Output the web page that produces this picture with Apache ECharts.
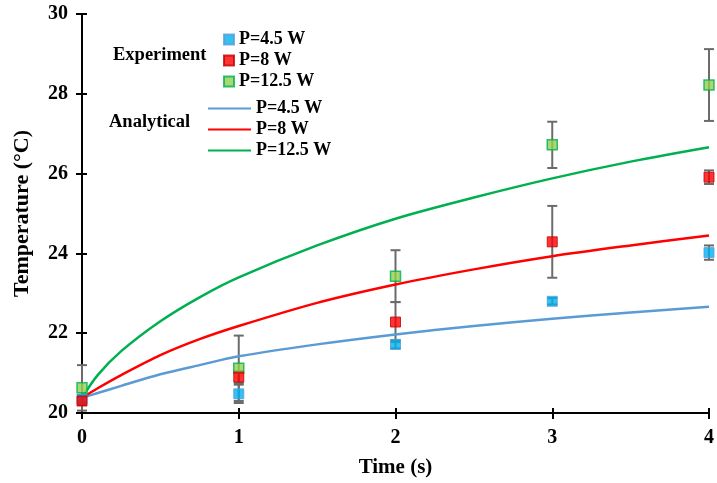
<!DOCTYPE html>
<html>
<head>
<meta charset="utf-8">
<script src="https://cdn.jsdelivr.net/npm/echarts@6/dist/echarts.min.js"></script>
<style>html,body{margin:0;padding:0;background:#fff;}#c{width:717px;height:483px;}</style>
</head>
<body>
<div id="c"></div>
<script>
// Experimental data
const times = [0, 1, 2, 3, 4];
const exp45 = [20.35, 20.48, 21.72, 22.80, 24.02];
const exp8 = [20.30, 20.90, 22.28, 24.29, 25.91];
const exp125 = [20.63, 21.12, 23.43, 26.72, 28.22];
const err45 = [0.10, 0.23, 0.10, 0.08, 0.18];
const err8 = [0.10, 0.15, 0.50, 0.90, 0.17];
const err125 = [0.57, 0.82, 0.65, 0.58, 0.90];
// Analytical curves
const tAna = [0, 0.1, 0.25, 0.5, 0.75, 1, 1.5, 2, 2.5, 3, 3.5, 4];
const ana45 = [20.38, 20.50, 20.68, 20.97, 21.20, 21.42, 21.72, 21.97, 22.18, 22.36, 22.52, 22.66];
const ana8 = [20.38, 20.62, 20.95, 21.45, 21.85, 22.18, 22.76, 23.22, 23.60, 23.93, 24.20, 24.45];
const ana125 = [20.38, 20.95, 21.55, 22.30, 22.90, 23.40, 24.20, 24.87, 25.40, 25.88, 26.30, 26.66];
const labels = ['P=4.5 W', 'P=8 W', 'P=12.5 W'];
const xTicks = [0, 1, 2, 3, 4];
const yTicks = [20, 22, 24, 26, 28, 30];

const FONT = '"Liberation Serif", "Times New Roman", serif';
const pair = (xs, ys) => xs.map((x, i) => [x, ys[i]]);
const errData = (ys, es) => times.map((t, i) => [t, ys[i] - es[i], ys[i] + es[i]]);

function errRender(params, api) {
  const x = api.value(0);
  const lo = api.coord([x, api.value(1)]);
  const hi = api.coord([x, api.value(2)]);
  const hw = 5;
  const style = { stroke: '#6b6b6b', lineWidth: 2 };
  return {
    type: 'group',
    children: [
      { type: 'line', shape: { x1: lo[0], y1: lo[1], x2: hi[0], y2: hi[1] }, style },
      { type: 'line', shape: { x1: lo[0] - hw, y1: lo[1], x2: lo[0] + hw, y2: lo[1] }, style },
      { type: 'line', shape: { x1: hi[0] - hw, y1: hi[1], x2: hi[0] + hw, y2: hi[1] }, style }
    ]
  };
}

const nameMap = {
  e45: labels[0], e8: labels[1], e125: labels[2],
  a45: labels[0], a8: labels[1], a125: labels[2]
};
const legendText = { fontFamily: FONT, fontWeight: 'bold', fontSize: 18, color: '#000' };

const chart = echarts.init(document.getElementById('c'), null, { renderer: 'canvas' });
chart.setOption({
  backgroundColor: '#fff',
  animation: false,
  grid: { left: 82, right: 8, top: 14, bottom: 69 },
  xAxis: [{
    type: 'value', min: 0, max: 4, interval: 1,
    name: 'Time (s)', nameLocation: 'middle', nameGap: 44,
    nameTextStyle: { fontFamily: FONT, fontWeight: 'bold', fontSize: 21, color: '#000' },
    axisLine: { lineStyle: { color: '#000', width: 2 } },
    axisTick: { show: true, length: 6, lineStyle: { color: '#000', width: 2 } },
    axisLabel: { fontFamily: FONT, fontWeight: 'bold', fontSize: 20, color: '#000', margin: 15 },
    splitLine: { show: false }
  }, {
    type: 'value', min: 0, max: 4, interval: 1, position: 'bottom',
    axisLine: { show: false },
    axisTick: { show: true, inside: true, length: 5, lineStyle: { color: '#000', width: 2 } },
    axisLabel: { show: false }, splitLine: { show: false }
  }],
  yAxis: [{
    type: 'value', min: 20, max: 30, interval: 2,
    name: 'Temperature (°C)', nameLocation: 'middle', nameGap: 49,
    nameTextStyle: { fontFamily: FONT, fontWeight: 'bold', fontSize: 22, color: '#000' },
    axisLine: { show: true, lineStyle: { color: '#000', width: 2 } },
    axisTick: { show: true, length: 6, lineStyle: { color: '#000', width: 2 } },
    axisLabel: { fontFamily: FONT, fontWeight: 'bold', fontSize: 20, color: '#000', margin: 14 },
    splitLine: { show: false }
  }, {
    type: 'value', min: 20, max: 30, interval: 2, position: 'left',
    axisLine: { show: false },
    axisTick: { show: true, inside: true, length: 5, lineStyle: { color: '#000', width: 2 } },
    axisLabel: { show: false }, splitLine: { show: false }
  }],
  legend: [{
    data: ['e45', 'e8', 'e125'],
    orient: 'vertical', left: 218, top: 25,
    itemWidth: 10, itemHeight: 10, itemGap: 2,
    formatter: n => nameMap[n],
    textStyle: Object.assign({ lineHeight: 19 }, legendText)
  }, {
    data: ['a45', 'a8', 'a125'],
    orient: 'vertical', left: 202, top: 94,
    itemWidth: 43, itemHeight: 10, itemGap: 2, itemStyle: { opacity: 0 },
    formatter: n => nameMap[n],
    textStyle: Object.assign({ lineHeight: 19 }, legendText)
  }],
  graphic: [
    { type: 'text', left: 113, top: 46, style: { text: 'Experiment', font: 'bold 18.5px ' + FONT, fill: '#000' } },
    { type: 'text', left: 109, top: 113, style: { text: 'Analytical', font: 'bold 18.5px ' + FONT, fill: '#000' } }
  ],
  series: [
    { type: 'custom', name: 'err125', renderItem: errRender, data: errData(exp125, err125), encode: { x: 0, y: [1, 2] }, z: 2 },
    { type: 'custom', name: 'err8', renderItem: errRender, data: errData(exp8, err8), encode: { x: 0, y: [1, 2] }, z: 2 },
    { type: 'custom', name: 'err45', renderItem: errRender, data: errData(exp45, err45), encode: { x: 0, y: [1, 2] }, z: 2 },
    { type: 'line', name: 'a45', data: pair(tAna, ana45), smooth: 0.3, symbol: 'none', showSymbol: false,
      lineStyle: { color: '#5B9BD5', width: 2.5 }, itemStyle: { color: '#5B9BD5' }, z: 3 },
    { type: 'line', name: 'a8', data: pair(tAna, ana8), smooth: 0.3, symbol: 'none', showSymbol: false,
      lineStyle: { color: '#FF0000', width: 2.5 }, itemStyle: { color: '#FF0000' }, z: 3 },
    { type: 'line', name: 'a125', data: pair(tAna, ana125), smooth: 0.3, symbol: 'none', showSymbol: false,
      lineStyle: { color: '#00B050', width: 2.5 }, itemStyle: { color: '#00B050' }, z: 3 },
    { type: 'scatter', name: 'e45', data: pair(times, exp45), symbol: 'rect', symbolSize: 10,
      itemStyle: { color: '#00B0F0', borderColor: '#5B9BD5', borderWidth: 1 }, z: 4 },
    { type: 'scatter', name: 'e125', data: pair(times, exp125), symbol: 'rect', symbolSize: 10,
      itemStyle: { color: '#92D050', borderColor: '#00B050', borderWidth: 1.5 }, z: 4 },
    { type: 'scatter', name: 'e8', data: pair(times, exp8), symbol: 'rect', symbolSize: 10,
      itemStyle: { color: '#FF0000', borderColor: '#C00000', borderWidth: 1 }, z: 5 }
  ]
});
</script>
</body>
</html>
